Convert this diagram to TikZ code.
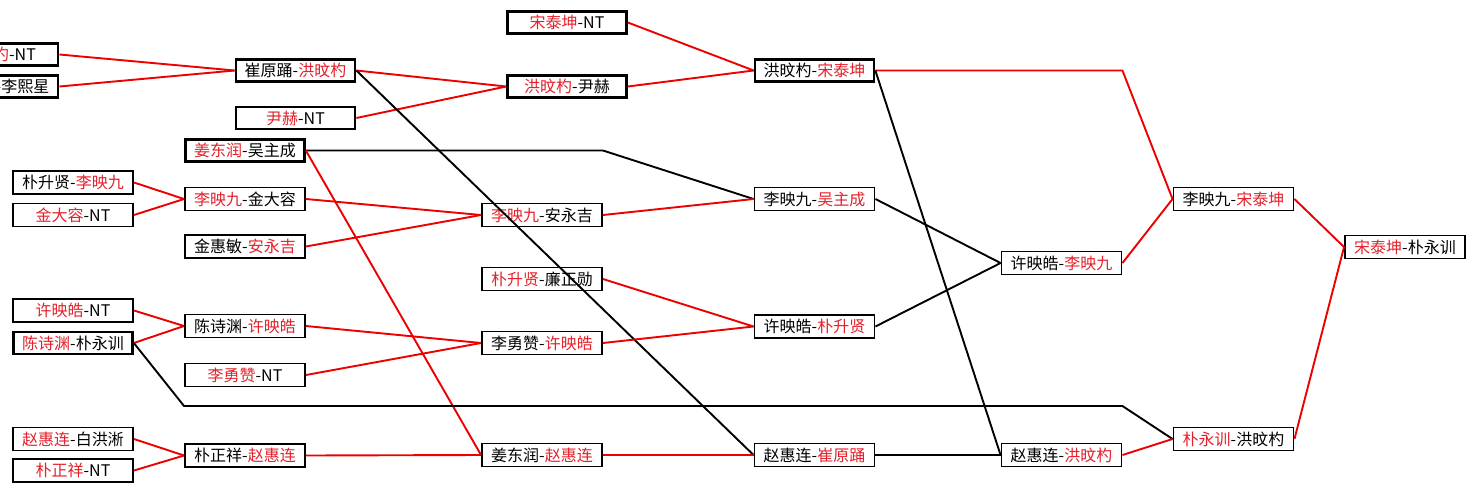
\documentclass[tikz,border=0pt]{standalone}
\usepackage{fontspec}
\newfontfamily\cjk{Noto Sans CJK SC}
\definecolor{tred}{RGB}{226,34,44}
\definecolor{lred}{RGB}{236,0,0}
\newcommand{\rd}[1]{\textcolor{tred}{#1}}
\tikzset{
  match/.style={draw=black, fill=white, line width=1.9pt, minimum width=120pt,
    minimum height=23pt, inner sep=0pt, font=\cjk\fontsize{16}{19}\selectfont},
  heavy/.style={match, line width=2.7pt, minimum width=119pt, minimum height=22pt},
  win/.style={draw=lred, line width=1.9pt},
  lose/.style={draw=black, line width=1.9pt},
}
\begin{document}
\begin{tikzpicture}[x=1pt,y=-1pt]
\fill[white] (0,0) rectangle (1476,493);
\clip (0,0) rectangle (1476,493);
% column A
\node[heavy] (a1) at (-1.5,54.5) {\rd{洪旼杓}-NT};
\node[heavy] (a2) at (-1.5,86.5) {\rd{崔原踊}-李熙星};
\node[match] (a3) at (73,182.5) {朴升贤-\rd{李映九}};
\node[match] (a4) at (73,215) {\rd{金大容}-NT};
\node[match] (a5) at (73,310.5) {\rd{许映皓}-NT};
\node[heavy] (a6) at (73,343) {\rd{陈诗渊}-朴永训};
\node[match] (a7) at (73,439) {\rd{赵惠连}-白洪淅};
\node[match] (a8) at (73,470.5) {\rd{朴正祥}-NT};
% column B
\node[heavy] (b1) at (295.5,70.5) {崔原踊-\rd{洪旼杓}};
\node[heavy] (b2) at (295.5,118) {\rd{尹赫}-NT};
\node[heavy] (b3) at (245,150.5) {\rd{姜东润}-吴主成};
\node[match] (b4) at (245,199) {\rd{李映九}-金大容};
\node[match] (b5) at (245,246.5) {金惠敏-\rd{安永吉}};
\node[match] (b6) at (245,326) {陈诗渊-\rd{许映皓}};
\node[match] (b7) at (245,375) {\rd{李勇赞}-NT};
\node[match] (b8) at (245,455.5) {朴正祥-\rd{赵惠连}};
% column C
\node[heavy] (c1) at (567,22.5) {\rd{宋泰坤}-NT};
\node[heavy] (c2) at (567,86.5) {\rd{洪旼杓}-尹赫};
\node[match] (c3) at (542,215) {\rd{李映九}-安永吉};
\node[match] (c4) at (542,279) {\rd{朴升贤}-廉正勋};
\node[match] (c5) at (542,343) {李勇赞-\rd{许映皓}};
\node[match] (c6) at (542,455) {姜东润-\rd{赵惠连}};
% column D
\node[heavy] (d1) at (814.5,70.5) {洪旼杓-\rd{宋泰坤}};
\node[match] (d2) at (814.5,199) {李映九-\rd{吴主成}};
\node[match] (d3) at (814.5,326.5) {许映皓-\rd{朴升贤}};
\node[match] (d4) at (814.5,455) {赵惠连-\rd{崔原踊}};
% column E
\node[match] (e1) at (1061.5,263) {许映皓-\rd{李映九}};
\node[match] (e2) at (1061.5,455) {赵惠连-\rd{洪旼杓}};
% column F
\node[match] (f1) at (1233.5,199) {李映九-\rd{宋泰坤}};
\node[match] (f2) at (1233.5,439) {\rd{朴永训}-洪旼杓};
% final
\node[match] (g1) at (1405,247) {\rd{宋泰坤}-朴永训};
% bend points
\coordinate (k1) at (c3.east |- b3.east);
\coordinate (k2) at (e1.east |- d1.east);
\coordinate (k3) at (b6.west |- 0,406);
\coordinate (k4) at (e2.east |- 0,406);
% connectors
\draw[win] (a1.east) -- (b1.west);
\draw[win] (a2.east) -- (b1.west);
\draw[win] (b1.east) -- (c2.west);
\draw[win] (b2.east) -- (c2.west);
\draw[win] (c1.east) -- (d1.west);
\draw[win] (c2.east) -- (d1.west);
\draw[win] (d1.east) -- (k2) -- (f1.west);
\draw[lose] (d1.east) -- (e2.west);
\draw[lose] (b1.east) -- (d4.west);
\draw[lose] (b3.east) -- (k1) -- (d2.west);
\draw[win] (b3.east) -- (c6.west);
\draw[win] (a3.east) -- (b4.west);
\draw[win] (a4.east) -- (b4.west);
\draw[win] (b4.east) -- (c3.west);
\draw[win] (b5.east) -- (c3.west);
\draw[win] (c3.east) -- (d2.west);
\draw[lose] (d2.east) -- (e1.west);
\draw[win] (c4.east) -- (d3.west);
\draw[win] (c5.east) -- (d3.west);
\draw[lose] (d3.east) -- (e1.west);
\draw[win] (e1.east) -- (f1.west);
\draw[win] (a5.east) -- (b6.west);
\draw[win] (a6.east) -- (b6.west);
\draw[lose] (a6.east) -- (k3) -- (k4) -- (f2.west);
\draw[win] (b6.east) -- (c5.west);
\draw[win] (b7.east) -- (c5.west);
\draw[win] (a7.east) -- (b8.west);
\draw[win] (a8.east) -- (b8.west);
\draw[win] (b8.east) -- (c6.west);
\draw[win] (c6.east) -- (d4.west);
\draw[lose] (d4.east) -- (e2.west);
\draw[win] (e2.east) -- (f2.west);
\draw[win] (f1.east) -- (g1.west);
\draw[win] (f2.east) -- (g1.west);
\end{tikzpicture}
\end{document}
